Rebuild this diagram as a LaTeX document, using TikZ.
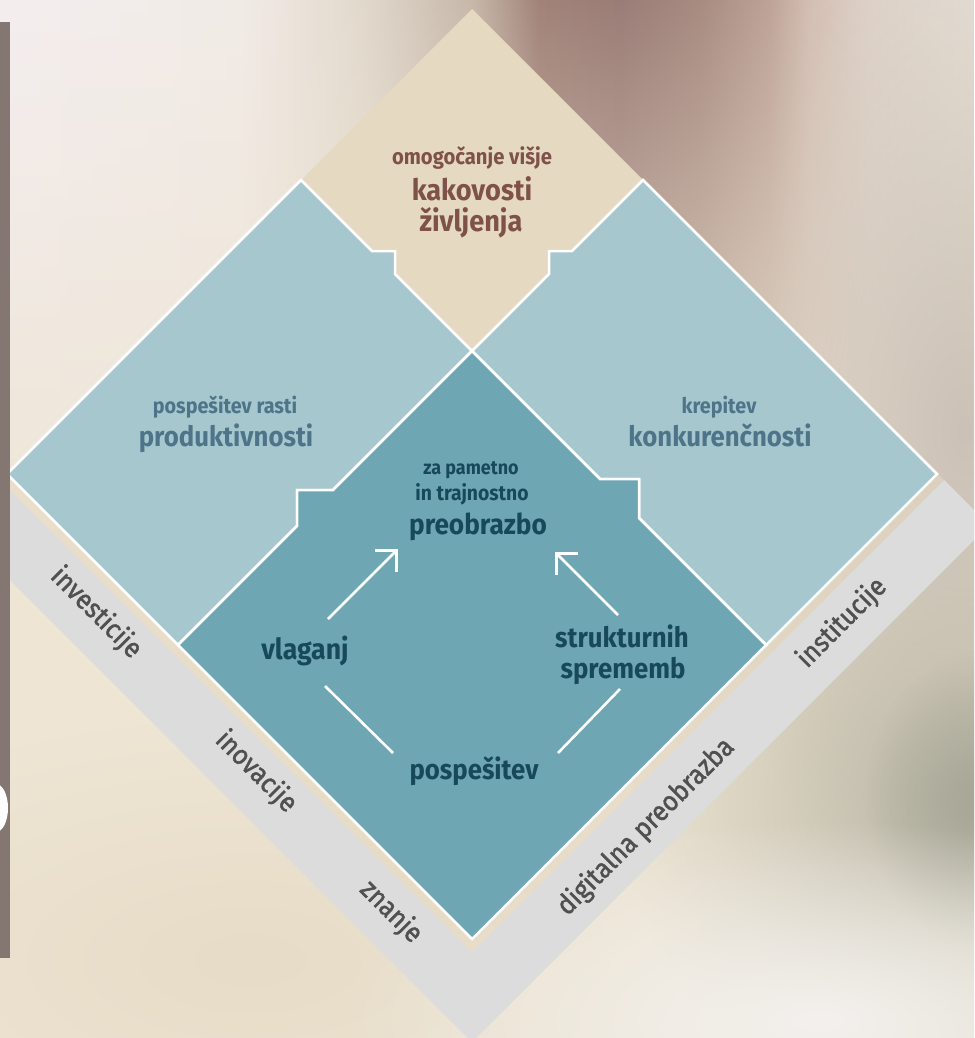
\documentclass[tikz,border=0pt]{standalone}
\usepackage{fontspec}
\setmainfont{Fira Sans}[FakeStretch=0.92]
\newfontfamily\bandfont{Fira Sans}[FakeStretch=0.92, FakeBold=1.6]
\usetikzlibrary{arrows.meta,fadings}
\definecolor{tanc}{HTML}{E5D9C2}
\definecolor{lblue}{HTML}{A7C7CE}
\definecolor{tealc}{HTML}{6EA6B3}
\definecolor{bandc}{HTML}{DCDCDC}
\definecolor{bandtxt}{HTML}{505050}
\definecolor{brownbar}{HTML}{847670}
\definecolor{toptxt}{HTML}{7E5149}
\definecolor{bluetxt}{HTML}{4E7489}
\definecolor{darktxt}{HTML}{17495A}
\definecolor{bgbase}{HTML}{EEE5D4}
\definecolor{rightmid}{HTML}{CBC1B6}
\definecolor{olivegray}{HTML}{BDB9A8}
\definecolor{olivedark}{HTML}{A5A595}
\definecolor{lightbr}{HTML}{F3F1EE}
\definecolor{lowtan}{HTML}{E7DCC7}
\definecolor{m0}{HTML}{C4B4A6}
\definecolor{m1}{HTML}{9C7C73}
\definecolor{m2}{HTML}{957670}
\definecolor{m3}{HTML}{A3857C}
\definecolor{m4}{HTML}{BA9F93}
\definecolor{m5}{HTML}{D2BCB1}
\definecolor{m6}{HTML}{DED2C9}
\definecolor{m7}{HTML}{E6DFD7}
\definecolor{k0}{HTML}{F4EEF1}
\definecolor{k1}{HTML}{F2ECE8}
\definecolor{k2}{HTML}{E2D9CD}
\definecolor{k3}{HTML}{CFC3B6}
\pgfdeclarehorizontalshading{topshade}{100bp}{color(0bp)=(k0); color(25bp)=(k0); color(37.3bp)=(k1); color(43.5bp)=(k2); color(47bp)=(k3); color(49.35bp)=(m0); color(52.7bp)=(m1); color(56.85bp)=(m2); color(60.95bp)=(m3); color(64.5bp)=(m4); color(66.6bp)=(m5); color(69.65bp)=(m6); color(75bp)=(m7); color(100bp)=(m7)}
\tikzfading[name=vfade, top color=transparent!0, middle color=transparent!0, bottom color=transparent!100]
\tikzfading[name=soft, inner color=transparent!0, outer color=transparent!100]
\begin{document}
\begin{tikzpicture}[x=1pt,y=-1pt,
  blob/.style={path fading=soft},
  bluesq/.style={fill=lblue, draw=white, line width=2.5pt},
  tealsq/.style={fill=tealc, draw=white, line width=2.5pt},
  wline/.style={draw=white, line width=2.6pt},
  warrow/.style={wline, -{Straight Barb[length=15pt,width=30pt]}},
  toplbl/.style={text=toptxt, inner sep=0pt, anchor=base},
  bluelbl/.style={text=bluetxt, inner sep=0pt, anchor=base},
  darklbl/.style={text=darktxt, inner sep=0pt, anchor=base},
  bandlbl/.style={text=bandtxt, inner sep=0pt, font=\bandfont\fontsize{27.5}{27.5}\selectfont}
]
\useasboundingbox (0,0) rectangle (974,1038);
\clip (0,0) rectangle (974,1038);
% background
\fill[bgbase] (0,0) rectangle (974,1038);
\shade[shading=topshade, path fading=vfade] (0,-40) rectangle (974,600);
\fill[rightmid, blob] (965,430) ellipse [x radius=260, y radius=500];
\fill[lowtan, blob] (250,960) ellipse [x radius=500, y radius=240];
\fill[olivegray, blob] (940,800) ellipse [x radius=320, y radius=320];
\fill[olivedark, blob] (985,800) ellipse [x radius=120, y radius=150];
\fill[lightbr, blob] (820,1020) ellipse [x radius=480, y radius=200];
% tan gap strip and grey band
\fill[tanc, opacity=0.6] (0,467) -- (472,939) -- (937,474) -- (944,480) -- (472,952) -- (0,480) -- cycle;
\fill[bandc] (0,480) -- (472,952) -- (944,480) -- (989,525) -- (472,1042) -- (0,570) -- cycle;
% tan quadrant
\fill[tanc] (472,9) -- (643,180) -- (472,351) -- (301,180) -- cycle;
% left blue
\filldraw[bluesq] (7,474) -- (301,180) -- (372,251) -- (395,251) -- (395,274) -- (472,351)
  -- (333,490) -- (297,490) -- (297,526) -- (178,645) -- cycle;
% right blue
\filldraw[bluesq] (643,180) -- (937,474) -- (766,645) -- (639,518) -- (639,479) -- (600,479)
  -- (472,351) -- (549,274) -- (549,251) -- (572,251) -- cycle;
% teal
\filldraw[tealsq] (472,351) -- (600,479) -- (639,479) -- (639,518) -- (766,645) -- (472,939)
  -- (178,645) -- (297,526) -- (297,490) -- (333,490) -- cycle;
% left bar and blob
\fill[brownbar] (0,22) rectangle (10,958);
\fill[white] (-4,808) ellipse [x radius=12, y radius=24];
% top texts
\node[toplbl, font=\fontsize{22}{22}\selectfont\bfseries] (t1) at (472,164) {omogočanje višje};
\node[toplbl, font=\fontsize{29.5}{29.5}\selectfont\bfseries] (t2) at (472,200) {kakovosti};
\node[toplbl, font=\fontsize{29.5}{29.5}\selectfont\bfseries] (t3) at (471,231) {življenja};
% left blue texts
\node[bluelbl, font=\fontsize{21.5}{21.5}\selectfont\bfseries] (l1) at (225,413) {pospešitev rasti};
\node[bluelbl, font=\fontsize{28}{28}\selectfont\bfseries] (l2) at (226,446) {produktivnosti};
% right blue texts
\node[bluelbl, font=\fontsize{21.5}{21.5}\selectfont\bfseries] (r1) at (719,413) {krepitev};
\node[bluelbl, font=\fontsize{28}{28}\selectfont\bfseries] (r2) at (720,446) {konkurenčnosti};
% teal texts
\node[darklbl, font=\fontsize{19.5}{19.5}\selectfont\bfseries] (c1) at (471,474) {za pametno};
\node[darklbl, font=\fontsize{21}{21}\selectfont\bfseries] (c2) at (472,500) {in trajnostno};
\node[darklbl, font=\fontsize{28.5}{28.5}\selectfont\bfseries] (c3) at (478,534) {preobrazbo};
\node[darklbl, font=\fontsize{29}{29}\selectfont\bfseries] (v) at (305,659) {vlaganj};
\node[darklbl, font=\fontsize{28}{28}\selectfont\bfseries] (s1) at (622,647) {strukturnih};
\node[darklbl, font=\fontsize{28}{28}\selectfont\bfseries] (s2) at (623,678) {sprememb};
\node[darklbl, font=\fontsize{28}{28}\selectfont\bfseries] (p) at (474,779) {pospešitev};
% arrows and lines
\coordinate (a1s) at (328,619); \coordinate (a1e) at (398,549);
\coordinate (a2s) at (618,615); \coordinate (a2e) at (555,552);
\coordinate (l1s) at (325,686); \coordinate (l1e) at (393,753);
\coordinate (l2s) at (620,689); \coordinate (l2e) at (558,753);
\draw[warrow] (a1s) -- (a1e);
\draw[warrow] (a2s) -- (a2e);
\draw[wline] (l1s) -- (l1e);
\draw[wline] (l2s) -- (l2e);
% band labels
\node[bandlbl, rotate=-45] (b1) at (96,613) {investicije};
\node[bandlbl, rotate=-45] (b2) at (256,772) {inovacije};
\node[bandlbl, rotate=-45] (b3) at (391,912) {znanje};
\node[bandlbl, rotate=45] (b4) at (646,827) {digitalna preobrazba};
\node[bandlbl, rotate=45] (b5) at (842,623) {institucije};
\end{tikzpicture}
\end{document}
